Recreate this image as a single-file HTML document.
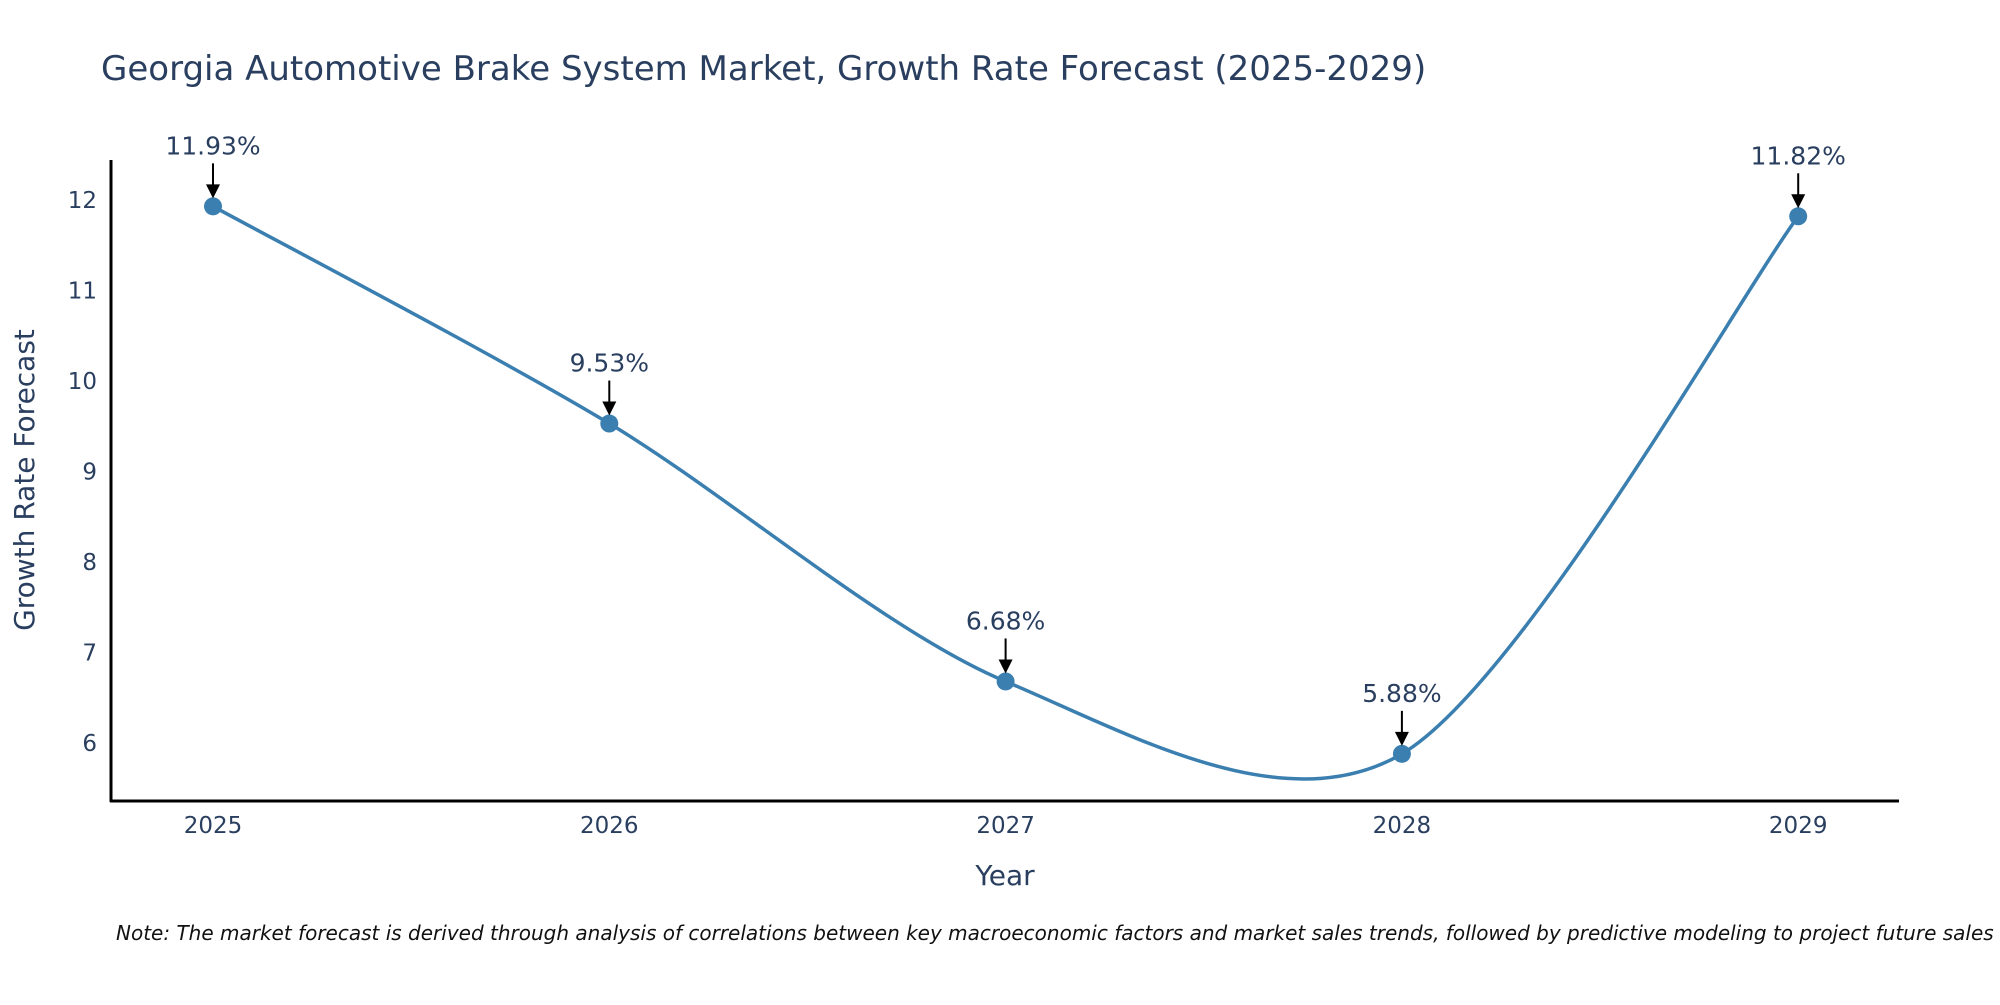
<!DOCTYPE html>
<html><head><meta charset="utf-8"><style>
body{margin:0;background:#fff;}
svg text{font-family:"DejaVu Sans","Liberation Sans",sans-serif;fill:#2a3f5f;}
</style></head><body>
<svg id="chart" width="2000" height="1000" xmlns="http://www.w3.org/2000/svg">
<text x="101" y="80" font-size="34">Georgia Automotive Brake System Market, Growth Rate Forecast (2025-2029)</text>
<g id="yticks"></g>
<g id="xticks"></g>
<line x1="111" y1="160" x2="111" y2="802" stroke="#000" stroke-width="3"/>
<line x1="110" y1="801" x2="1899" y2="801" stroke="#000" stroke-width="3"/>
<path id="line" fill="none" stroke="#3a7fb0" stroke-width="3.5"/>
<g id="marks"></g>
<g id="annots"></g>
<text transform="translate(34,480) rotate(-90)" text-anchor="middle" font-size="28">Growth Rate Forecast</text>
<text x="1005" y="885" text-anchor="middle" font-size="28">Year</text>
<text x="116" y="940" font-size="20" font-style="italic" style="fill:#111">Note: The market forecast is derived through analysis of correlations between key macroeconomic factors and market sales trends, followed by predictive modeling to project future sales</text>
</svg>
<script>
const years=[2025,2026,2027,2028,2029];
const values=[11.93,9.53,6.68,5.88,11.82];
const labels=["11.93%","9.53%","6.68%","5.88%","11.82%"];
const yTicks=[6,7,8,9,10,11,12];
const NS="http://www.w3.org/2000/svg";
function xs(v){return 213+(v-2025)*396.3;}
function ys(v){return 200+(12-v)*90.5;}
function mk(t,a,p){const e=document.createElementNS(NS,t);for(const k in a)e.setAttribute(k,a[k]);p.appendChild(e);return e;}
const yg=document.getElementById('yticks');
yTicks.forEach(t=>{const e=mk('text',{x:97,y:ys(t)+8,'text-anchor':'end','font-size':23},yg);


e.textContent=t;});
const xg=document.getElementById('xticks');
years.forEach(t=>{const e=mk('text',{x:xs(t),y:833,'text-anchor':'middle','font-size':23},xg);


e.textContent=t;});
const P=years.map((y,i)=>[xs(y),ys(values[i])]);
let d='M'+P[0][0]+','+P[0][1];
const k=0.15;
for(let i=0;i<P.length-1;i++){
 const p0=P[i-1]||P[i],p1=P[i],p2=P[i+1],p3=P[i+2]||P[i+1];
 const c1=[p1[0]+(p2[0]-p0[0])*k,p1[1]+(p2[1]-p0[1])*k];
 const c2=[p2[0]-(p3[0]-p1[0])*k,p2[1]-(p3[1]-p1[1])*k];
 d+=` C${c1[0]},${c1[1]} ${c2[0]},${c2[1]} ${p2[0]},${p2[1]}`;
}
document.getElementById('line').setAttribute('d',d);
const mg=document.getElementById('marks'),ag=document.getElementById('annots');
P.forEach((p,i)=>{
 const c=mk('circle',{cx:p[0],cy:p[1],r:9,fill:'#3a7fb0'},mg);
 
 
 const l=mk('line',{x1:p[0],y1:p[1]-43,x2:p[0],y2:p[1]-20,stroke:'#000','stroke-width':2},ag);
 
 
 const h=mk('polygon',{points:`${p[0]-7},${p[1]-22} ${p[0]+7},${p[1]-22} ${p[0]},${p[1]-8}`,fill:'#000'},ag);
 
 
 const t=mk('text',{x:p[0],y:p[1]-52,'text-anchor':'middle','font-size':25},ag);
 
 
 t.textContent=labels[i];
});
</script>
</body></html>
